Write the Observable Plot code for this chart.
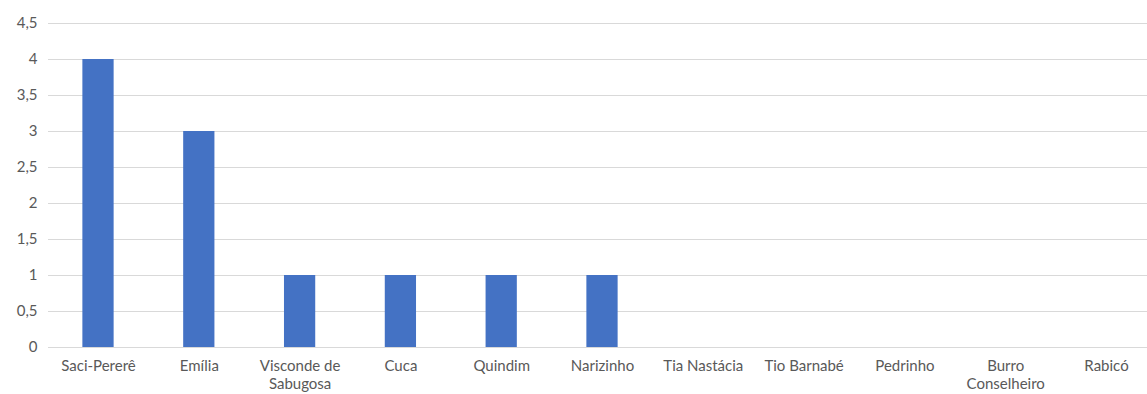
<!DOCTYPE html>
<html>
<head>
<meta charset="utf-8">
<script src="https://cdn.jsdelivr.net/npm/d3@7"></script>
<script src="https://cdn.jsdelivr.net/npm/@observablehq/plot@0.6"></script>
<style>
  html, body { margin: 0; padding: 0; background: #fff; }
  svg { display: block; }
</style>
</head>
<body>
<div id="chart"></div>
<script>
const categories = ["Saci-Pererê", "Emília", "Visconde de Sabugosa", "Cuca", "Quindim", "Narizinho", "Tia Nastácia", "Tio Barnabé", "Pedrinho", "Burro Conselheiro", "Rabicó"];
const values = [4, 3, 1, 1, 1, 1, 0, 0, 0, 0, 0];
const tickLabels = ["Saci-Pererê", "Emília", "Visconde de\nSabugosa", "Cuca", "Quindim", "Narizinho", "Tia Nastácia", "Tio Barnabé", "Pedrinho", "Burro\nConselheiro", "Rabicó"];
const yTicks = [0, 0.5, 1, 1.5, 2, 2.5, 3, 3.5, 4, 4.5];

const data = categories.map((c, i) => ({name: c, value: values[i]}));
const labelOf = new Map(categories.map((c, i) => [c, tickLabels[i]]));

const chart = Plot.plot({
  width: 1147,
  height: 394,
  marginTop: 23,
  marginBottom: 47,
  marginLeft: 48,
  marginRight: 0,
  style: {fontFamily: "Lato, 'Open Sans', sans-serif", fontSize: "15px", color: "#595959", background: "#fff"},
  x: {domain: categories, range: [47.6, 1156.4], paddingInner: 0.69, paddingOuter: 0.345, round: false},
  y: {domain: [0, 4.5]},
  marks: [
    Plot.ruleY(yTicks, {stroke: "#d9d9d9", strokeWidth: 1}),
    Plot.barY(data, {x: "name", y: "value", fill: "#4472C4"}),
    Plot.axisY({ticks: yTicks, tickSize: 0, tickPadding: 11, tickFormat: d => String(d).replace(".", ","), label: null, fontSize: 15, fill: "#595959"}),
    Plot.axisX({tickSize: 0, tickPadding: 11, tickFormat: d => labelOf.get(d), label: null, fontSize: 15, lineHeight: 1.2, fill: "#595959"})
  ]
});
document.getElementById("chart").appendChild(chart);
</script>
</body>
</html>
